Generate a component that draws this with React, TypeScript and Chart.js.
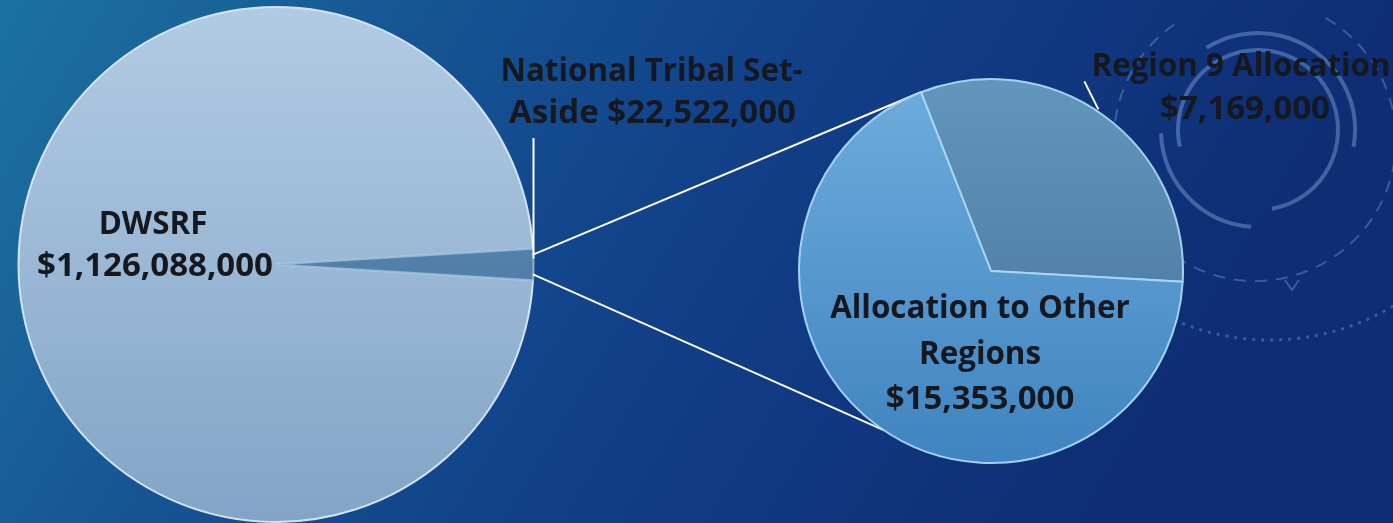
import React, { useEffect, useRef } from "react";
import { Chart, registerables } from "chart.js";
Chart.register(...registerables);

// ---- Data ----
const mainCategories = ["DWSRF", "National Tribal Set-Aside"];
const mainValues = [1126088000, 22522000];
const subCategories = ["Region 9 Allocation", "Allocation to Other Regions"];
const subValues = [7169000, 15353000];

const W = 1393;
const H = 523;
const SUB_LEFT = 796;
const SUB_TOP = 76;
const SUB_SIZE = 390;

const fmt = (v: number) => "$" + v.toLocaleString("en-US");

const TXT_SIZE = 33;
const WORD_SX = 0.95;
const NUM_SX = 1.0;

function drawText(ctx: CanvasRenderingContext2D, text: string, x: number, y: number, sx = WORD_SX) {
  ctx.save();
  ctx.translate(x, y);
  ctx.scale(sx, 1);
  ctx.font = `bold ${TXT_SIZE}px "Open Sans", "Noto Sans", sans-serif`;
  ctx.fillStyle = "#15181f";
  ctx.textAlign = "center";
  ctx.textBaseline = "middle";
  ctx.fillText(text, 0, 0);
  ctx.restore();
}

function vGrad(ctx: CanvasRenderingContext2D, top: number, bottom: number, c1: string, c2: string) {
  const g = ctx.createLinearGradient(0, top, 0, bottom);
  g.addColorStop(0, c1);
  g.addColorStop(1, c2);
  return g;
}

const deg = (d: number) => (d * Math.PI) / 180;

export default function App() {
  const mainRef = useRef<HTMLCanvasElement>(null);
  const subRef = useRef<HTMLCanvasElement>(null);

  useEffect(() => {
    if (!mainRef.current || !subRef.current) return;

    const subLabels = {
      id: "subLabels",
      afterDatasetsDraw(chart: any) {
        const ctx = chart.ctx;
        const meta = chart.getDatasetMeta(0);
        const a0 = meta.data[0];
        const cx = a0.x, cy = a0.y;
        drawText(ctx, "Allocation to Other", cx - 11, cy + 38);
        drawText(ctx, "Regions", cx - 11, cy + 84);
        drawText(ctx, fmt(subValues[1]), cx - 11, cy + 129, NUM_SX);
      },
    };

    const subChart = new Chart(subRef.current, {
      type: "pie",
      data: {
        labels: subCategories,
        datasets: [
          {
            data: subValues,
            backgroundColor: (c: any) => {
              const ca = c.chart.chartArea;
              if (!ca) return "#5a8fba";
              return c.dataIndex === 0
                ? vGrad(c.chart.ctx, ca.top, ca.bottom, "#6396bc", "#426f98")
                : vGrad(c.chart.ctx, ca.top, ca.bottom, "#6eacdc", "#3f84c0");
            },
            borderColor: "rgba(170,215,245,0.95)",
            borderWidth: 2,
          },
        ],
      },
      options: {
        responsive: false,
        animation: false,
        rotation: -21.4,
        layout: { padding: 2 },
        plugins: { legend: { display: false }, tooltip: { enabled: false } },
      },
      plugins: [subLabels],
    });

    const background = {
      id: "bg",
      beforeDraw(chart: any) {
        const ctx: CanvasRenderingContext2D = chart.ctx;
        ctx.save();
        const g = ctx.createLinearGradient(0, 0, W * 0.75, H * 1.2);
        g.addColorStop(0, "#1c72a2");
        g.addColorStop(0.3, "#165594");
        g.addColorStop(0.6, "#113f88");
        g.addColorStop(1, "#0e2d74");
        ctx.fillStyle = g;
        ctx.fillRect(0, 0, W, H);
        // decorative rings
        const cx = 1258, cy = 130;
        ctx.strokeStyle = "rgba(150,190,235,0.38)";
        ctx.lineWidth = 4;
        ctx.beginPath();
        ctx.arc(cx, cy, 80, deg(168), deg(440));
        ctx.stroke();
        ctx.beginPath();
        ctx.arc(cx, cy, 97, deg(94), deg(178));
        ctx.stroke();
        ctx.beginPath();
        ctx.arc(cx, cy, 97, deg(238), deg(370));
        ctx.stroke();
        ctx.lineWidth = 2;
        ctx.strokeStyle = "rgba(150,190,235,0.32)";
        ctx.setLineDash([12, 9]);
        ctx.beginPath();
        ctx.arc(1255, 140, 141, deg(-60), deg(235));
        ctx.stroke();
        ctx.setLineDash([3, 6]);
        ctx.lineWidth = 3;
        ctx.beginPath();
        ctx.arc(1270, 100, 240, deg(14), deg(135));
        ctx.stroke();
        ctx.setLineDash([]);
        ctx.lineWidth = 2;
        ctx.beginPath();
        ctx.moveTo(1285, 280);
        ctx.lineTo(1292, 290);
        ctx.lineTo(1299, 280);
        ctx.stroke();
        ctx.restore();
      },
    };

    const connectors = {
      id: "connectors",
      afterDatasetsDraw(chart: any) {
        const ctx: CanvasRenderingContext2D = chart.ctx;
        const meta = chart.getDatasetMeta(0);
        const d = meta.data[0];
        const t = meta.data[1];
        const r = t.outerRadius;
        const topPt = { x: t.x + r * Math.cos(t.startAngle), y: t.y + r * Math.sin(t.startAngle) };
        const botPt = { x: t.x + r * Math.cos(t.endAngle), y: t.y + r * Math.sin(t.endAngle) };
        const sm = subChart.getDatasetMeta(0);
        const s0 = sm.data[0] as any;
        const scx = s0.x + SUB_LEFT, scy = s0.y + SUB_TOP, sr = s0.outerRadius;
        const endTop = { x: scx + sr * Math.cos(s0.startAngle), y: scy + sr * Math.sin(s0.startAngle) };
        const botAng = deg(124);
        const endBot = { x: scx + sr * Math.cos(botAng), y: scy + sr * Math.sin(botAng) };
        ctx.save();
        ctx.strokeStyle = "#ffffff";
        ctx.lineWidth = 2;
        ctx.beginPath();
        ctx.moveTo(topPt.x, topPt.y + 6);
        ctx.lineTo(endTop.x, endTop.y);
        ctx.moveTo(botPt.x, botPt.y - 6);
        ctx.lineTo(endBot.x, endBot.y);
        // tribal leader
        const mid = (t.startAngle + t.endAngle) / 2;
        const mx = t.x + r * Math.cos(mid);
        ctx.moveTo(mx, t.y - 6);
        ctx.lineTo(mx, 138);
        // region 9 leader
        const la = s0.startAngle + (s0.endAngle - s0.startAngle) * 0.48;
        const lx = scx + (sr + 2) * Math.cos(la), ly = scy + (sr + 2) * Math.sin(la);
        ctx.moveTo(lx, ly);
        ctx.lineTo(lx - 14, ly - 28);
        ctx.stroke();
        ctx.restore();

        // labels
        drawText(ctx, "DWSRF", d.x - 123, d.y - 40);
        drawText(ctx, fmt(mainValues[0]), d.x - 121, d.y + 2, NUM_SX);
        drawText(ctx, "National Tribal Set-", mx + 118, 72);
        drawText(ctx, "Aside " + fmt(mainValues[1]), mx + 119, 114, NUM_SX);
        drawText(ctx, "Region 9 Allocation", scx + 250, 67);
        drawText(ctx, fmt(subValues[0]), scx + 254, 110, NUM_SX);
      },
    };

    const mainTotal = mainValues.reduce((a, b) => a + b, 0);
    const rot = 90 - (mainValues[0] / mainTotal) * 360 - (mainValues[1] / mainTotal) * 180;

    const mainChart = new Chart(mainRef.current, {
      type: "pie",
      data: {
        labels: mainCategories,
        datasets: [
          {
            data: mainValues,
            backgroundColor: (c: any) => {
              const ca = c.chart.chartArea;
              if (!ca) return "#9ab8d6";
              return c.dataIndex === 0
                ? vGrad(c.chart.ctx, ca.top, ca.bottom, "#b2cbe4", "#83a4c6")
                : vGrad(c.chart.ctx, ca.top, ca.bottom, "#6594bd", "#3d6b95");
            },
            borderColor: ["rgba(215,232,248,0.95)", "rgba(150,185,215,0.9)"],
            borderWidth: 2,
          },
        ],
      },
      options: {
        responsive: false,
        animation: false,
        rotation: rot,
        layout: { padding: { left: 15, top: 6, right: W - 15 - 522, bottom: 0 } },
        plugins: { legend: { display: false }, tooltip: { enabled: false } },
      },
      plugins: [background, connectors],
    });

    return () => {
      mainChart.destroy();
      subChart.destroy();
    };
  }, []);

  return (
    <div style={{ position: "fixed", left: 0, top: 0, width: W, height: H, overflow: "hidden" }}>
      <canvas ref={mainRef} width={W} height={H} style={{ position: "absolute", left: 0, top: 0 }} />
      <canvas
        ref={subRef}
        width={SUB_SIZE}
        height={SUB_SIZE}
        style={{ position: "absolute", left: SUB_LEFT, top: SUB_TOP }}
      />
    </div>
  );
}
